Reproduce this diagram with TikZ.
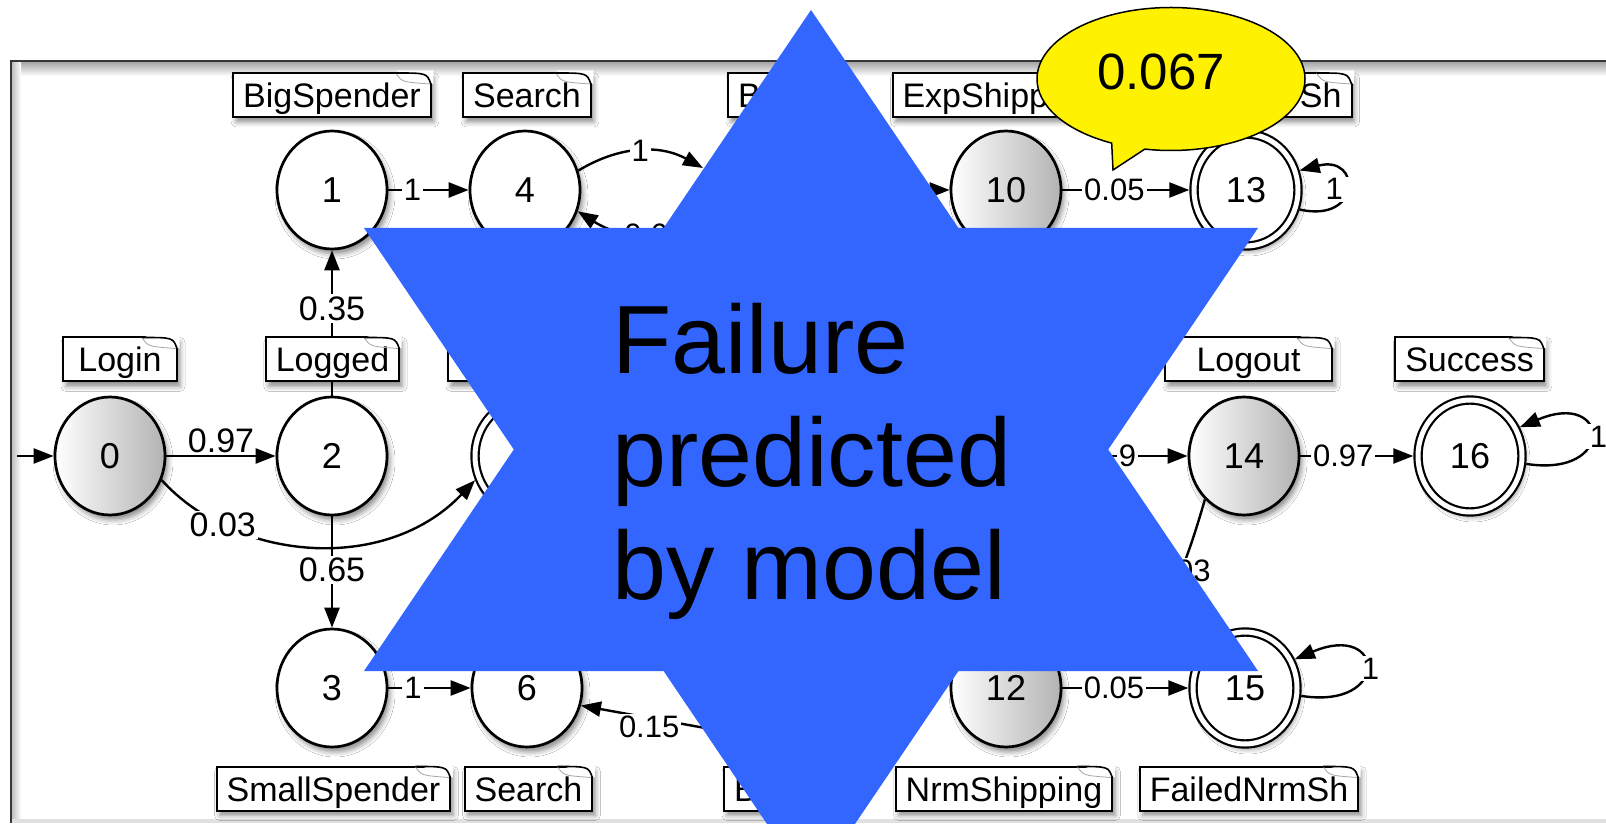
\documentclass[tikz,border=0pt]{standalone}
\usepackage{fontspec}
\setmainfont{Liberation Sans}
\usetikzlibrary{calc, arrows.meta, shapes.geometric, shapes.callouts, shadows.blur}

\definecolor{starblue}{RGB}{51,102,255}
\definecolor{framegray}{RGB}{55,55,55}

\tikzset{
  state/.style={ellipse, draw, line width=2.7pt, fill=white,
    minimum width=110pt, minimum height=118pt, inner sep=0pt,
    font=\fontsize{36}{36}\selectfont,
    blur shadow={shadow xshift=3pt, shadow yshift=-5pt, shadow blur radius=5pt, shadow opacity=45}},
  shaded/.style={left color=white, right color=black!30},
  final/.style={double, double distance=5pt, line width=2.2pt,
    minimum width=104pt, minimum height=112pt, outer sep=4.7pt},
  note/.style={draw, line width=2pt, fill=white, minimum height=44pt,
    inner xsep=10pt, inner ysep=0pt, text height=30pt, text depth=5pt,
    font=\fontsize{34}{34}\selectfont,
    blur shadow={shadow xshift=3pt, shadow yshift=-5pt, shadow blur radius=5pt, shadow opacity=45}},
  edge/.style={line width=2.4pt, -{Triangle[length=20pt, width=15pt]}},
  lab/.style={fill=white, inner sep=2pt, font=\fontsize{31}{31}\selectfont},
  biglab/.style={lab, font=\fontsize{34}{34}\selectfont},
}

\begin{document}
\begin{tikzpicture}[x=1pt, y=1pt]
  \useasboundingbox (0,0) rectangle (1606,823);
  \fill[white] (0,0) rectangle (1606,823);

  % window frame
  \shade[top color=black!35, bottom color=white] (12,747) rectangle (1606,761);
  \shade[left color=black!25, right color=white] (12,4) rectangle (21,761);
  \fill[black!12] (11,0) rectangle (1606,4);
  \draw[framegray, line width=2.5pt] (11,0) -- (11,762) -- (1606,762);

  % states
  \node[state, shaded] (n0) at (110,367) {0};
  \node[state] (n1) at (332,633) {1};
  \node[state] (n2) at (332,367) {2};
  \node[state] (n3) at (332,135) {3};
  \node[state] (n4) at (525,633) {4};
  \node[state, final] (n5) at (527,367) {};
  \node[state] (n6) at (527,135) {6};
  \node[state, shaded] (n10) at (1006,633) {10};
  \node[state, shaded] (n12) at (1006,135) {12};
  \node[state, final] (n13) at (1246,633) {13};
  \node[state, shaded] (n14) at (1244,367) {14};
  \node[state, final] (n15) at (1245,135) {15};
  \node[state, final] (n16) at (1470,367) {16};

  % loose ends, under the star
  \coordinate (start) at (17,367);
  \coordinate (bA) at (703,655);
  \coordinate (bB) at (716,606);
  \coordinate (bC) at (705,95);
  \coordinate (bD) at (870,633);
  \coordinate (bE) at (1000,367);
  \coordinate (bF) at (1125,160);

  % transitions
  \draw[edge] (start) -- (n0);
  \draw[edge] (n0) -- node[biglab, above, fill=none] {0.97} (n2);
  \draw[edge] (n0.-25) .. controls (235,262) and (385,248) .. node[biglab, pos=0.23] {0.03} (n5.205);
  \draw[edge] (n2) -- node[biglab, pos=0.6] {0.35} (n1);
  \draw[edge] (n2) -- node[biglab, pos=0.48] {0.65} (n3);
  \draw[edge] (n1) -- node[lab, pos=0.3] {1} (n4);
  \draw[edge] (n3) -- node[lab, pos=0.3] {1} (n6);
  \draw[edge] (n4.20) to[bend left=30] node[lab] {1} (bA);
  \draw[edge] (bB) to[bend left=30] node[lab] {0.6} (n4.-22);
  \draw[edge] (bC) -- node[lab, pos=0.45, yshift=-9pt] {0.15} (n6.-18);
  \draw[edge] (bD) -- (n10);
  \draw[edge] (n10) -- node[lab, pos=0.41] {0.05} (n13);
  \draw[edge] (n12) -- node[lab, pos=0.41] {0.05} (n15);
  \draw[edge] (n13.-20) .. controls +(62,-14) and +(62,16) .. node[lab, inner xsep=8pt, xshift=-12pt] {1} (n13.20);
  \draw[edge] (n15.-8) .. controls +(90,-14) and +(90,38) .. node[lab, inner xsep=9pt, xshift=5pt] {1} (n15.30);
  \draw[edge] (bE) -- node[lab, pos=0.68] {9} (n14);
  \draw[edge] (n14) -- node[lab, pos=0.38] {0.97} (n16);
  \draw[edge] (n16.-8) .. controls +(90,-14) and +(90,38) .. node[lab, inner xsep=9pt, xshift=8pt] {1} (n16.30);
  \draw[edge] (n14.228) .. controls (1188,265) and (1172,220) .. node[lab, pos=0.44] {0.03} (bF);

  % notes
  \node[note] (nBig) at (332,728) {BigSpender};
  \node[note] (nSearchA) at (527,728) {Search};
  \node[note, anchor=west, text width=60pt, align=left] (nBuyA) at (727,728) {B};
  \node[note] (nExp) at (998,728) {ExpShipping};
  \node[note, text width=193pt, align=right] (nFailExp) at (1245,728) {Sh};
  \node[note, minimum width=114pt] (nLogin) at (120,463.5) {Login};
  \node[note] (nLogged) at (332.5,463.5) {Logged};
  \node[note, minimum width=158pt] (nMid) at (527,463.5) {};
  \node[note, minimum width=167pt] (nLogout) at (1248.5,463.5) {Logout};
  \node[note] (nSuccess) at (1469.5,463.5) {Success};
  \node[note] (nSmall) at (333.5,34.5) {SmallSpender};
  \node[note] (nSearchB) at (528.5,34.5) {Search};
  \node[note, anchor=west, text width=60pt, align=left] (nBuyB) at (723,34.5) {B};
  \node[note] (nNrm) at (1004,34.5) {NrmShipping};
  \node[note] (nFailNrm) at (1249,34.5) {FailedNrmSh};

  % folded corners
  \foreach \n in {nBig, nSearchA, nBuyA, nExp, nFailExp, nLogin, nLogged, nMid,
                  nLogout, nSuccess, nSmall, nSearchB, nBuyB, nNrm, nFailNrm} {
    \fill[white] ([xshift=-36pt, yshift=1.5pt]\n.north east) -- ([xshift=1.5pt, yshift=1.5pt]\n.north east)
      -- ([xshift=1.5pt, yshift=-12pt]\n.north east) -- cycle;
    \draw[black!35, line width=0.8pt] ([xshift=-36pt, yshift=-1pt]\n.north east)
      .. controls ([xshift=-30pt, yshift=-10pt]\n.north east) .. ([xshift=-2pt, yshift=-12pt]\n.north east);
    \draw[line width=1.6pt] ([xshift=-36pt, yshift=-1pt]\n.north east)
      .. controls ([xshift=-5pt, yshift=-1pt]\n.north east) .. ([xshift=-1pt, yshift=-12pt]\n.north east);
  }

  % star
  \fill[starblue] (811,813) -- (364,152) -- (1258,152) -- cycle;
  \fill[starblue] (364,595) -- (1258,595) -- (811,-66) -- cycle;
  \node[anchor=base west, align=left, inner sep=0pt, font=\fontsize{97}{113}\selectfont]
    (claim) at (612,224) {Failure\\predicted\\by model};

  % balloon
  \coordinate (tip) at (1113,653);
  \node[ellipse callout, draw, line width=1.5pt, fill=yellow, minimum width=268pt,
    minimum height=143pt, callout absolute pointer={(tip)}] (bubble) at (1171,744) {};
  \node[font=\fontsize{51}{51}\selectfont] (bubbletext) at ($(bubble.center)+(-10,7)$) {0.067};
\end{tikzpicture}
\end{document}
